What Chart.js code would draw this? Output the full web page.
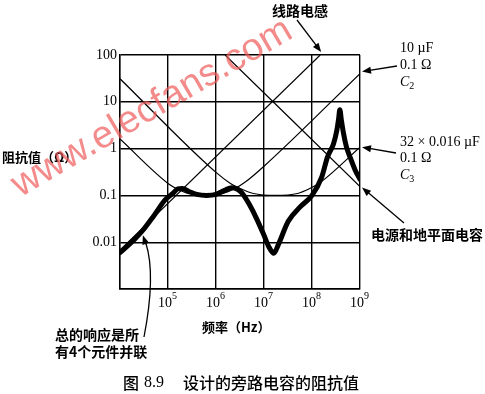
<!DOCTYPE html>
<html>
<head>
<meta charset="utf-8">
<script src="https://cdn.jsdelivr.net/npm/chart.js@4/dist/chart.umd.min.js"></script>
<style>
  html, body { margin: 0; padding: 0; background: #fff; }
  #wrap { width: 485px; height: 394px; }
</style>
</head>
<body>
<div id="wrap"><canvas id="chart" width="485" height="394"></canvas></div>
<script>
// values (frequency in Hz, impedance in ohm)
const totalFreq = [1e4, 2e4, 3e4, 5e4, 8.7e4, 1.26e5, 1.6e5, 2e5, 2.8e5, 4e5, 6.3e5, 1e6, 1.6e6, 2.1e6, 2.8e6, 3.5e6, 5e6, 7e6, 1e7, 1.26e7, 1.6e7, 2e7, 3.2e7, 5.6e7, 1e8, 1.6e8, 2.1e8, 2.8e8, 3.3e8, 3.6e8, 3.8e8, 4.1e8, 4.5e8, 5.2e8, 6.2e8, 7.9e8, 1e9];
const totalZ    = [0.006, 0.0115, 0.018, 0.036, 0.08, 0.11, 0.138, 0.141, 0.12, 0.105, 0.1, 0.105, 0.132, 0.145, 0.135, 0.112, 0.063, 0.032, 0.014, 0.008, 0.0058, 0.009, 0.028, 0.056, 0.1, 0.25, 0.66, 1.26, 2.5, 4.5, 6.8, 4, 2.2, 1.1, 0.66, 0.35, 0.22];

const lineFreq = [1e4, 1.48e8];          // 线路电感
const lineZ    = [0.0068, 100];

const c2Freq = [1e4, 1e5, 1.6e5, 2.5e5, 6e5, 1.4e6, 2.5e6, 4e6, 1e7, 1e9];   // 10 uF, 0.1 ohm
const c2Z    = [1.6, 0.18, 0.135, 0.112, 0.1, 0.11, 0.14, 0.19, 0.42, 40];

const c3Freq = [1e4, 1e6, 2e6, 3.2e6, 6e6, 1.7e7, 5e7, 9e7, 1.5e8, 1e9];     // 32 x 0.016 uF, 0.1 ohm
const c3Z    = [31, 0.31, 0.18, 0.14, 0.11, 0.1, 0.11, 0.14, 0.19, 1.07];

const planeFreq = [1.55e6, 1e9];         // 电源和地平面电容
const planeZ    = [100, 0.155];

const xTicks = [1e4, 1e5, 1e6, 1e7, 1e8, 1e9];
const xTickExp = ['', '5', '6', '7', '8', '9'];
const yTicks = [0.001, 0.01, 0.1, 1, 10, 100];
const yTickLabels = ['', '0.01', '0.1', '1', '10', '100'];

const pairs = (fs, zs) => fs.map((f, i) => ({ x: f, y: zs[i] }));

const thin = { borderColor: "#000", borderWidth: 1.2, pointRadius: 0, fill: false, cubicInterpolationMode: "monotone" };

const serif = '"Liberation Serif", "DejaVu Serif", serif';
const cjk = '"Noto Sans CJK SC", "Noto Sans", sans-serif';

function arrow(ctx, x1, y1, x2, y2) {
  const a = Math.atan2(y2 - y1, x2 - x1);
  ctx.beginPath();
  ctx.moveTo(x1, y1);
  ctx.lineTo(x2 - 6 * Math.cos(a), y2 - 6 * Math.sin(a));
  ctx.stroke();
  ctx.beginPath();
  ctx.moveTo(x2, y2);
  ctx.lineTo(x2 - 9 * Math.cos(a) + 3.5 * Math.sin(a), y2 - 9 * Math.sin(a) - 3.5 * Math.cos(a));
  ctx.lineTo(x2 - 9 * Math.cos(a) - 3.5 * Math.sin(a), y2 - 9 * Math.sin(a) + 3.5 * Math.cos(a));
  ctx.closePath();
  ctx.fill();
}

function capLabel(ctx, x, y, sub) {
  ctx.font = "italic 14px " + serif;
  ctx.fillText("C", x, y);
  const w = ctx.measureText("C").width;
  ctx.font = "10px " + serif;
  ctx.fillText(sub, x + w, y + 4);
}

const notes = {
  id: "notes",
  afterDraw(chart) {
    const ctx = chart.ctx;
    const xs = chart.scales.x, ys = chart.scales.y, area = chart.chartArea;
    ctx.save();
    ctx.fillStyle = "#000";
    ctx.strokeStyle = "#000";
    ctx.lineWidth = 1.3;
    ctx.textBaseline = "middle";

    // x tick labels with exponents
    xTicks.forEach((v, i) => {
      if (!xTickExp[i]) return;
      const px = xs.getPixelForValue(v);
      ctx.font = "14px " + serif;
      const w = ctx.measureText("10").width;
      ctx.textAlign = "left";
      ctx.fillText("10", px - w / 2 - 3, 303);
      ctx.font = "10px " + serif;
      ctx.fillText(xTickExp[i], px + w / 2 - 3, 296);
    });

    // axis titles
    ctx.textAlign = "left";
    ctx.font = "bold 13px " + cjk;
    ctx.fillText("阻抗值（Ω）", 2, 157);
    ctx.fillText("频率（Hz）", 202, 327);

    // 线路电感
    ctx.font = "bold 14px " + cjk;
    ctx.fillText("线路电感", 272, 11);
    arrow(ctx, 297, 20, xs.getPixelForValue(lineFreq[1]) + 1, area.top - 3);

    // C2
    const right = area.right;
    ctx.font = "14px " + serif;
    ctx.fillText("10 µF", 400, 48);
    ctx.fillText("0.1 Ω", 400, 65);
    capLabel(ctx, 400, 82, "2");
    arrow(ctx, 397, 66, right + 2, ys.getPixelForValue(c2Z[c2Z.length - 1]) - 2);

    // C3
    ctx.font = "14px " + serif;
    ctx.fillText("32 × 0.016 µF", 400, 142);
    ctx.fillText("0.1 Ω", 400, 158);
    capLabel(ctx, 400, 175, "3");
    arrow(ctx, 396, 153, right + 2, ys.getPixelForValue(c3Z[c3Z.length - 1]));

    // plane capacitance
    ctx.font = "bold 14px " + cjk;
    ctx.fillText("电源和地平面电容", 371, 235);
    arrow(ctx, 404, 223, right + 2, ys.getPixelForValue(planeZ[1]) + 1);

    // total response
    ctx.fillText("总的响应是所", 55, 335);
    ctx.fillText("有4个元件并联", 55, 352);
    const tx = xs.getPixelForValue(3e4), ty = ys.getPixelForValue(0.018) + 5;
    ctx.beginPath();
    ctx.moveTo(144, 337);
    ctx.quadraticCurveTo(156, 275, tx + 3, ty + 8);
    ctx.stroke();
    arrow(ctx, tx + 3, ty + 9, tx, ty);

    // caption
    ctx.font = "500 16px " + cjk;
    ctx.fillText("图", 123, 383);
    ctx.font = "16px " + serif;
    ctx.fillText("8.9", 144, 383);
    ctx.font = "500 16px " + cjk;
    ctx.fillText("设计的旁路电容的阻抗值", 183, 383);

    // watermark
    ctx.translate(152, 108);
    ctx.rotate(-0.53);
    ctx.font = '36px "Liberation Sans", sans-serif';
    const mw = ctx.measureText("www.elecfans.com").width;
    ctx.scale(318 / mw, 318 / mw);
    ctx.textAlign = "center";
    ctx.fillStyle = "rgba(240, 90, 90, 0.7)";
    ctx.fillText("www.elecfans.com", 0, 0);
    ctx.restore();
  }
};

new Chart(document.getElementById("chart").getContext("2d"), {
  type: "line",
  data: {
    datasets: [
      { ...thin, label: "线路电感", data: pairs(lineFreq, lineZ) },
      { ...thin, label: "C2", data: pairs(c2Freq, c2Z) },
      { ...thin, label: "C3", data: pairs(c3Freq, c3Z) },
      { ...thin, label: "电源和地平面电容", data: pairs(planeFreq, planeZ) },
      { label: "总的响应", data: pairs(totalFreq, totalZ), borderColor: "#000", borderWidth: 5,
        pointRadius: 0, fill: false, cubicInterpolationMode: "monotone", borderCapStyle: "round", borderJoinStyle: "round" }
    ]
  },
  options: {
    responsive: false,
    animation: false,
    devicePixelRatio: 1,
    layout: { padding: { left: 0, right: 125, top: 55, bottom: 75 } },
    plugins: { legend: { display: false }, tooltip: { enabled: false } },
    scales: {
      x: {
        type: "logarithmic", min: 1e4, max: 1e9,
        afterBuildTicks: s => { s.ticks = xTicks.map(v => ({ value: v })); },
        afterFit: s => { s.height = 30; },
        ticks: { display: false },
        grid: { color: "#000", lineWidth: 1.4, drawTicks: false },
        border: { color: "#000", width: 1.4 }
      },
      y: {
        type: "logarithmic", min: 0.001, max: 100,
        afterBuildTicks: s => { s.ticks = yTicks.map(v => ({ value: v })); },
        afterFit: s => { s.width = 120; },
        ticks: {
          padding: 3, color: "#000",
          font: { family: serif, size: 14 },
          callback: (v) => yTickLabels[yTicks.indexOf(v)] ?? ""
        },
        grid: { color: "#000", lineWidth: 1.4, drawTicks: false },
        border: { color: "#000", width: 1.4 }
      }
    }
  },
  plugins: [notes]
});
</script>
</body>
</html>
